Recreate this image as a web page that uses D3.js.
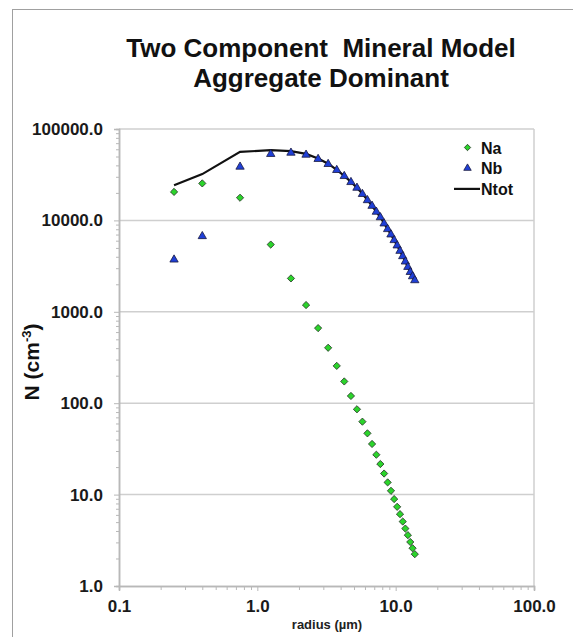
<!DOCTYPE html>
<html>
<head>
<meta charset="utf-8">
<script src="https://cdn.jsdelivr.net/npm/d3@7"></script>
<style>
  body { margin: 0; background: #fff; }
  svg { font-family: "Liberation Sans", Arial, sans-serif; font-weight: bold; }
</style>
</head>
<body>
<div id="chart"></div>
<script>
// radius in micrometres
const radius = [0.25, 0.4, 0.75, 1.25, 1.75, 2.25, 2.75, 3.25, 3.75, 4.25, 4.75, 5.25, 5.75, 6.25,
  6.75, 7.25, 7.75, 8.25, 8.75, 9.25, 9.75, 10.25, 10.75, 11.25, 11.75, 12.25, 12.75, 13.25, 13.75]

const na = [20500, 25400, 17700, 5440, 2320, 1185, 663, 404, 256, 173, 120, 85.8, 62.8, 46.8,
  35.8, 27.3, 21.6, 17.0, 13.6, 11.0, 8.93, 7.35, 6.11, 5.07, 4.25, 3.60, 3.03, 2.59, 2.23]

const nb = [3720, 6710, 38600, 53200, 54900, 52200, 46900, 41300, 35500, 30500, 26200, 22700, 19400, 16600,
  14400, 12400, 10800, 9240, 8010, 7000, 6070, 5310, 4630, 4050, 3540, 3090, 2720, 2440, 2210]

const ntot = [24200, 32100, 56300, 58600, 57200, 53400, 47600, 41700, 35800, 30700, 26300, 22800, 19500, 16650,
  14440, 12430, 10820, 9260, 8020, 7010, 6080, 5320, 4640, 4055, 3545, 3095, 2725, 2445, 2210]

const xTicks = [0.1, 1, 10, 100]
const yTicks = [1, 10, 100, 1000, 10000, 100000]
const titleLines = ['Two Component  Mineral Model', 'Aggregate Dominant']

const width = 573
const height = 637
const margin = { left: 119, right: 534, top: 129, bottom: 586 }

const svg = d3.select('#chart').append('svg')
  .attr('width', width)
  .attr('height', height)

// outer frame
svg.append('rect')
  .attr('x', 12.5).attr('y', 9.5)
  .attr('width', 700).attr('height', 700)
  .attr('fill', 'none')
  .attr('stroke', '#a0a0a0')

const x = d3.scaleLog().domain([0.1, 100]).range([margin.left, margin.right])
const y = d3.scaleLog().domain([1, 100000]).range([margin.bottom, margin.top])

const minors = (ticks) => {
  let out = []
  ticks.slice(0, -1).forEach(t => {
    for (let k = 2; k < 10; k++) out.push(t * k)
  })
  return out
}

// gridlines
svg.append('g')
  .selectAll('line')
  .data(yTicks.slice(1))
  .enter()
  .append('line')
  .attr('x1', margin.left).attr('x2', margin.right)
  .attr('y1', d => y(d)).attr('y2', d => y(d))
  .attr('stroke', '#cfcfcf')
  .attr('stroke-width', 1.5)

// plot border (right side)
svg.append('line')
  .attr('x1', margin.right).attr('x2', margin.right)
  .attr('y1', margin.top).attr('y2', margin.bottom)
  .attr('stroke', '#cfcfcf')
  .attr('stroke-width', 1.5)

const styleAxis = (g) => {
  g.selectAll('path').attr('stroke', '#b8b8b8').attr('stroke-width', 1.5)
  g.selectAll('line').attr('stroke', '#b8b8b8')
  g.selectAll('text').attr('fill', '#1a1a1a').style('font-size', '17px').style('font-family', '"Liberation Sans", Arial, sans-serif').style('font-weight', 'bold')
}

// x axis
svg.append('g')
  .attr('transform', `translate(0,${margin.bottom})`)
  .call(d3.axisBottom(x).tickValues(minors(xTicks)).tickSize(4).tickFormat(''))
  .call(styleAxis)
svg.append('g')
  .attr('transform', `translate(0,${margin.bottom})`)
  .call(d3.axisBottom(x).tickValues(xTicks).tickSize(5).tickPadding(9).tickFormat(d3.format('.1f')))
  .call(styleAxis)

// y axis
svg.append('g')
  .attr('transform', `translate(${margin.left},0)`)
  .call(d3.axisLeft(y).tickValues(minors(yTicks)).tickSize(3).tickFormat(''))
  .call(styleAxis)
svg.append('g')
  .attr('transform', `translate(${margin.left},0)`)
  .call(d3.axisLeft(y).tickValues(yTicks).tickSize(5).tickPadding(11).tickFormat(d3.format('.1f')))
  .call(styleAxis)

// title
svg.append('text')
  .attr('x', 321)
  .attr('text-anchor', 'middle')
  .style('font-size', '26px')
  .attr('fill', '#111')
  .style('white-space', 'pre')
  .selectAll('tspan')
  .data(titleLines)
  .enter()
  .append('tspan')
  .attr('x', 321)
  .attr('y', (d, i) => 57 + i * 30)
  .text(d => d)

// axis titles
svg.append('text')
  .attr('x', 327)
  .attr('y', 629)
  .attr('text-anchor', 'middle')
  .style('font-size', '13px')
  .attr('fill', '#222')
  .text('radius (\u00b5m)')

const yLabel = svg.append('text')
  .attr('transform', 'translate(39,362) rotate(-90)')
  .attr('text-anchor', 'middle')
  .style('font-size', '21px')
  .attr('fill', '#111')
yLabel.append('tspan').text('N (cm')
yLabel.append('tspan').attr('dy', -8).style('font-size', '13px').text('-3')
yLabel.append('tspan').attr('dy', 8).text(')')

// Ntot line
const line = d3.line()
  .x((d, i) => x(radius[i]))
  .y(d => y(d))

svg.append('path')
  .datum(ntot)
  .attr('d', line)
  .attr('fill', 'none')
  .attr('stroke', '#111')
  .attr('stroke-width', 2.2)

const diamond = d3.symbol().type(d3.symbolSquare).size(26)
const triangle = d3.symbol().type(d3.symbolTriangle).size(30)

// Nb triangles
svg.append('g')
  .selectAll('path')
  .data(nb)
  .enter()
  .append('path')
  .attr('d', triangle)
  .attr('transform', (d, i) => `translate(${x(radius[i])},${y(d)})`)
  .attr('fill', '#1f3fd6')
  .attr('stroke', '#1a1a40')
  .attr('stroke-width', 0.8)

// Na diamonds
svg.append('g')
  .selectAll('path')
  .data(na)
  .enter()
  .append('path')
  .attr('d', diamond)
  .attr('transform', (d, i) => `translate(${x(radius[i])},${y(d)}) rotate(45)`)
  .attr('fill', '#2bd42b')
  .attr('stroke', '#2a3a2a')
  .attr('stroke-width', 0.8)

// legend
const legend = svg.append('g').style('font-size', '16px')
const legendItems = ['Na', 'Nb', 'Ntot']
legendItems.forEach((name, i) => {
  let ly = 147.5 + i * 20.7
  if (name === 'Na') {
    legend.append('path').attr('d', d3.symbol().type(d3.symbolSquare).size(20))
      .attr('transform', `translate(467.5,${ly}) rotate(45)`)
      .attr('fill', '#2bd42b').attr('stroke', '#2a3a2a').attr('stroke-width', 0.8)
  } else if (name === 'Nb') {
    legend.append('path').attr('d', d3.symbol().type(d3.symbolTriangle).size(24))
      .attr('transform', `translate(467.5,${ly})`)
      .attr('fill', '#1f3fd6').attr('stroke', '#1a1a40').attr('stroke-width', 0.8)
  } else {
    legend.append('line')
      .attr('x1', 454).attr('x2', 480)
      .attr('y1', ly).attr('y2', ly)
      .attr('stroke', '#111').attr('stroke-width', 2.2)
  }
  legend.append('text')
    .attr('x', 481)
    .attr('y', ly + 6)
    .attr('fill', '#111')
    .text(name)
})
</script>
</body>
</html>
